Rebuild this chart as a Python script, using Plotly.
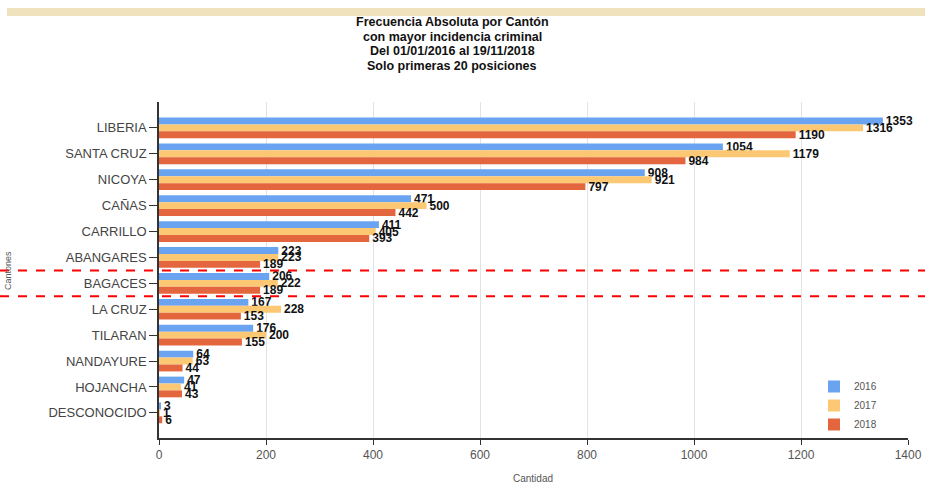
import plotly.graph_objects as go

cantones = ["LIBERIA", "SANTA CRUZ", "NICOYA", "CAÑAS", "CARRILLO", "ABANGARES",
            "BAGACES", "LA CRUZ", "TILARAN", "NANDAYURE", "HOJANCHA", "DESCONOCIDO"]
v2016 = [1353, 1054, 908, 471, 411, 223, 206, 167, 176, 64, 47, 3]
v2017 = [1316, 1179, 921, 500, 405, 223, 222, 228, 200, 63, 41, 1]
v2018 = [1190, 984, 797, 442, 393, 189, 189, 153, 155, 44, 43, 6]
series = [("2016", v2016, "#6aa3f0"), ("2017", v2017, "#fcc873"), ("2018", v2018, "#e4663f")]

title_lines = ["Frecuencia Absoluta por Cantón", "con mayor incidencia criminal",
               "Del 01/01/2016 al 19/11/2018", "Solo primeras 20 posiciones"]

FW, FH = 925, 486
L, R, T, B = 159, 908, 102, 438
W, H = R - L, B - T

def px(x):
    return (x - L) / W

def py(y):
    return (B - y) / H

fig = go.Figure()
for name, vals, col in series:
    fig.add_trace(go.Bar(
        y=cantones, x=vals, name=name, orientation="h",
        marker=dict(color=col, line=dict(width=0)),
        text=[str(v) for v in vals], textposition="outside",
        textfont=dict(family="Liberation Sans, Arial", size=12, color="#111"),
        texttemplate="<b>%{text}</b>", cliponaxis=False, constraintext="none",
    ))

fig.update_layout(
    width=FW, height=FH,
    margin=dict(l=L, r=FW - R, t=T, b=FH - B, autoexpand=False),
    paper_bgcolor="white", plot_bgcolor="white",
    barmode="group", bargap=0.2, bargroupgap=0,
    font=dict(family="Liberation Sans, Arial", color="#444"),
    showlegend=True,
    legend=dict(x=px(814), y=py(372), xanchor="left", yanchor="top",
                bgcolor="rgba(0,0,0,0)", font=dict(size=10, color="#555"),
                traceorder="normal", itemwidth=30, tracegroupgap=0),
    xaxis=dict(range=[0, 1400], dtick=200, tick0=0, showgrid=True, gridcolor="#e3e3e3",
               showline=True, linecolor="#333", linewidth=1.5, ticks="outside",
               ticklen=5, tickcolor="#333", zeroline=False, automargin=False,
               tickfont=dict(size=12, color="#555")),
    yaxis=dict(categoryorder="array", categoryarray=cantones, range=[11.97, -1.0],
               showline=True, linecolor="#333", linewidth=1.5, ticks="outside",
               ticklen=8, tickcolor="#333", showgrid=False, automargin=False,
               tickfont=dict(size=13, color="#444")),
)

# decorative banner at top
fig.add_shape(type="rect", xref="paper", yref="paper",
              x0=px(7), x1=px(925), y0=py(8), y1=py(16),
              fillcolor="#f1e2be", line=dict(width=0), layer="below")

# red dashed highlight lines around BAGACES
for yv in [5.5, 6.5]:
    fig.add_shape(type="line", xref="paper", yref="y",
                  x0=px(0), x1=px(925), y0=yv, y1=yv,
                  line=dict(color="#ff0000", width=2, dash="dash"))

# title lines
for i, t in enumerate(title_lines):
    fig.add_annotation(
        text="<b>" + t + "</b>", xref="paper", yref="paper",
        x=px(452), y=py(22 + 14.6 * i), xanchor="center", yanchor="middle",
        showarrow=False, font=dict(family="Liberation Sans, Arial", size=12.5, color="#111"),
    )

# axis titles
fig.add_annotation(text="Cantidad", xref="paper", yref="paper", x=px(533), y=py(478),
                   xanchor="center", yanchor="middle", showarrow=False,
                   font=dict(size=10, color="#555"))
fig.add_annotation(text="Cantones", xref="paper", yref="paper", x=px(8), y=py(271),
                   xanchor="center", yanchor="middle", showarrow=False, textangle=-90,
                   font=dict(size=9, color="#555"))

fig.write_html(
    "out.html",
    config={"displayModeBar": False},
    post_script="document.body.style.margin='0';document.body.style.overflow='hidden';",
)
